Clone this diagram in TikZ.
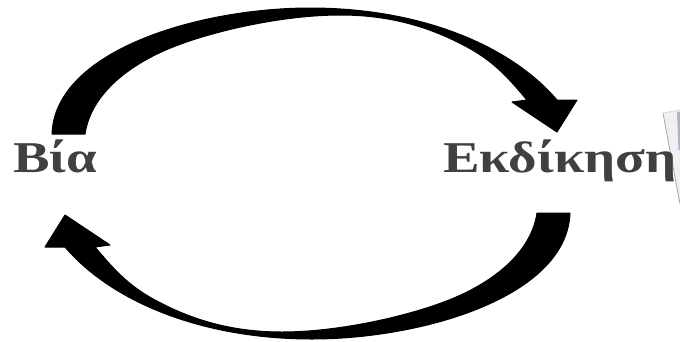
\documentclass[tikz,border=0pt]{standalone}
\usepackage{fontspec}
\setmainfont{Liberation Serif}
\definecolor{paperedge}{RGB}{120,128,150}
\begin{document}
\begin{tikzpicture}[x=1pt,y=-1pt,
  bigarrow/.style={fill=black,draw=black,line width=1pt,line join=round},
  word/.style={text=black!75,font=\bfseries\fontsize{44}{48}\selectfont,inner sep=0pt}]
\useasboundingbox (0,0) rectangle (680,341);
% top arrow
\def\toparrow{%
  (52,134) .. controls (55,50) and (200,8) .. (310,8)
  .. controls (420,8) and (510,45) .. (557,100)
  -- (577,100) -- (557,132) -- (512,102) -- (527,100)
  .. controls (510,80) and (495,62) .. (467,47)
  .. controls (430,27) and (390,15) .. (340,15)
  .. controls (285,15) and (216,30) .. (173,47)
  .. controls (140,60) and (92,88) .. (85,134)
  -- cycle}
\fill[bigarrow] \toparrow;
\begin{scope}[rotate around={180:(311,173.5)}]
\fill[bigarrow] \toparrow;
\end{scope}
% paper fragment at right edge
\fill[gray!12] (663,113) -- (680,110) -- (680,204) -- cycle;
\fill[paperedge!60] (677,112) -- (680,111.5) -- (680,150) -- (678.5,150) -- cycle;
\draw[gray!70,line width=0.8pt] (663,113) -- (680,204);
\draw[gray!40,line width=0.6pt] (663,113) -- (680,110);
\node[word,anchor=base west] (bia) at (13,172) {\scalebox{1.245}[1]{Βία}};
\node[word,anchor=base west] (ekd) at (443,172) {\scalebox{1.245}[1]{Εκδίκηση}};
\end{tikzpicture}
\end{document}
